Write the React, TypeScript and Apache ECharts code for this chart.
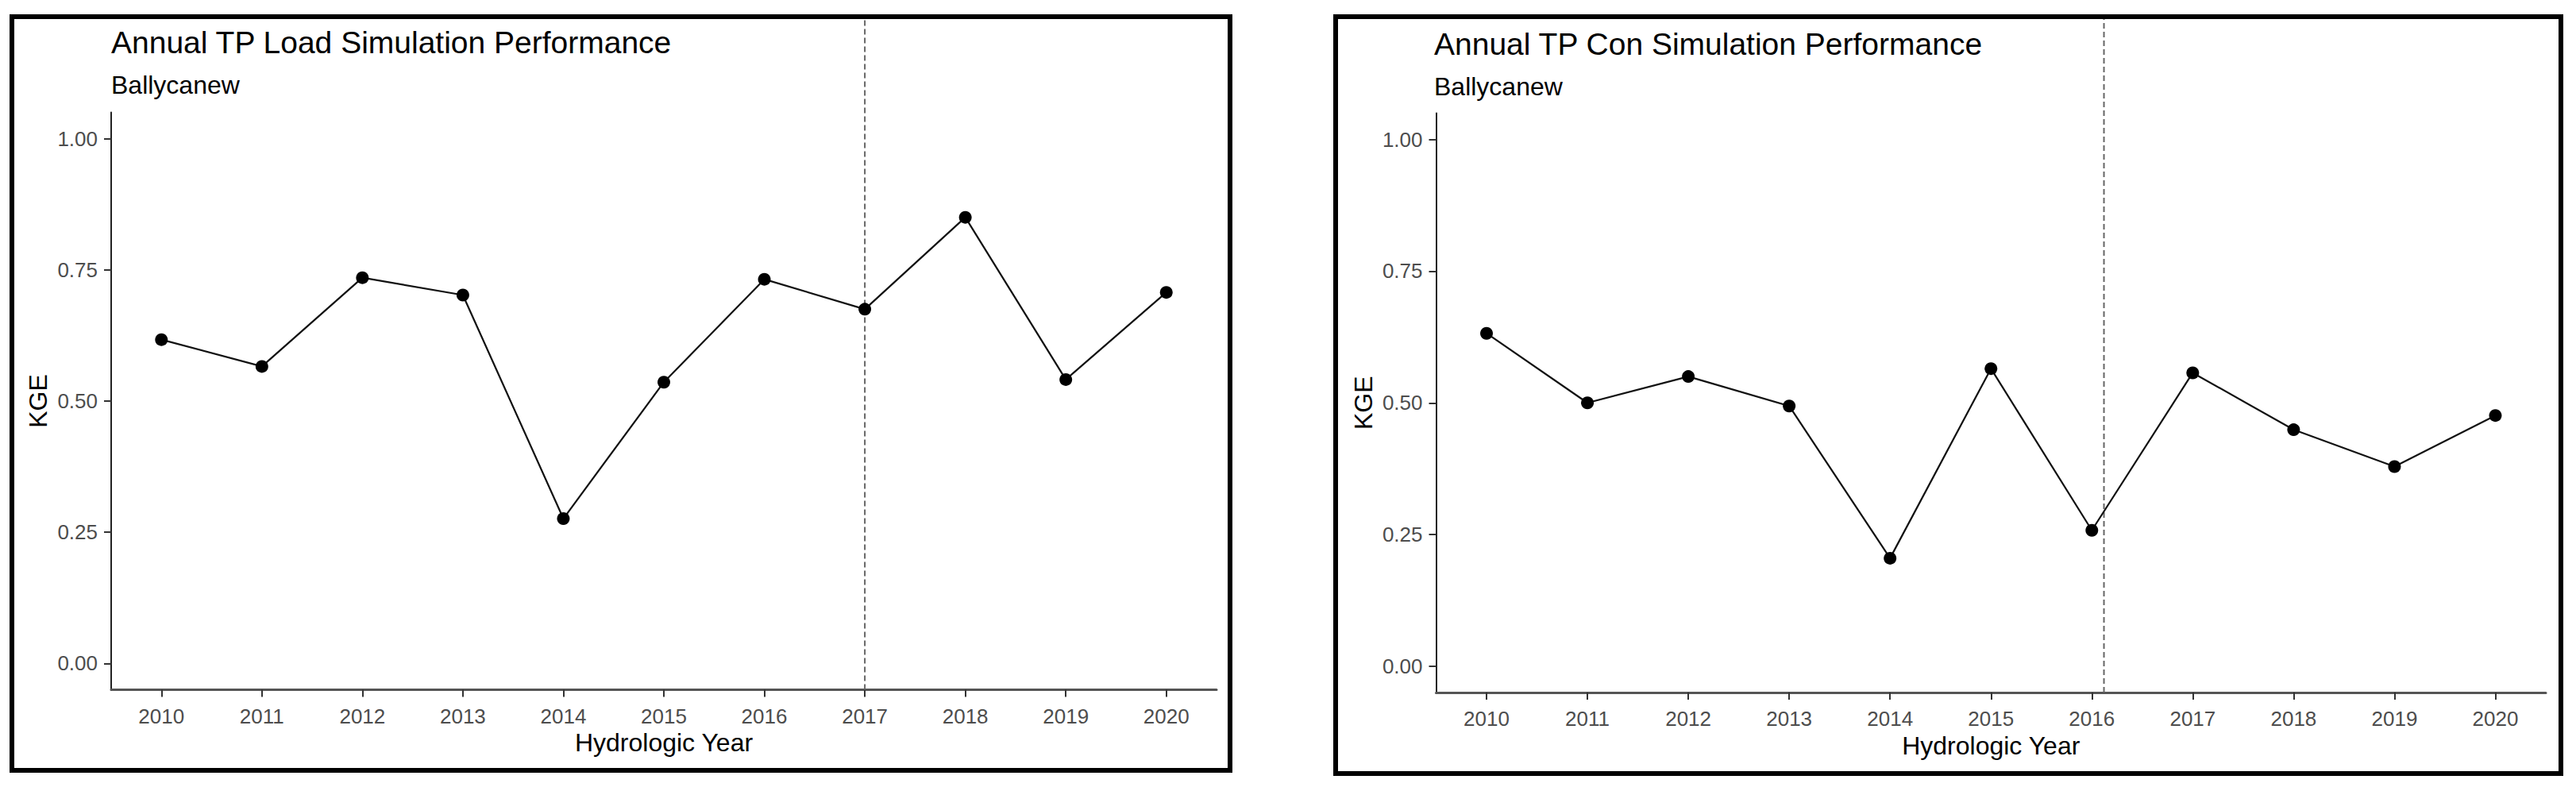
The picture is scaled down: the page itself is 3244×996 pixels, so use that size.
import React, { useEffect, useRef } from "react";
import * as echarts from "echarts";

const YEARS = [2010, 2011, 2012, 2013, 2014, 2015, 2016, 2017, 2018, 2019, 2020];
const LOAD_KGE = [0.617, 0.566, 0.735, 0.702, 0.276, 0.536, 0.732, 0.675, 0.85, 0.541, 0.707];
const CON_KGE = [0.632, 0.5, 0.55, 0.494, 0.205, 0.565, 0.258, 0.557, 0.449, 0.379, 0.476];
const Y_TICKS = [0, 0.25, 0.5, 0.75, 1];
const DIVIDERS = [2017.0, 2016.12];
const TITLES = ["Annual TP Load Simulation Performance", "Annual TP Con Simulation Performance"];
const SUBTITLE = "Ballycanew";
const X_NAME = "Hydrologic Year";
const Y_NAME = "KGE";

const FONT = "Liberation Sans, Arial, Helvetica, sans-serif";

export default function App() {
  const ref = useRef<HTMLDivElement>(null);
  useEffect(() => {
    if (!ref.current) return;
    const chart = echarts.init(ref.current, undefined, { renderer: "svg" });

    const panels = [
      { values: LOAD_KGE, title: TITLES[0], divider: DIVIDERS[0], left: 140, width: 1392, top: 141.5, height: 727, titleX: 140, titleY: 53.5, subY: 107, box: { x: 15, y: 21, w: 1534, h: 949 } },
      { values: CON_KGE, title: TITLES[1], divider: DIVIDERS[1], left: 1808.5, width: 1397.5, top: 142.5, height: 729.5, titleX: 1806, titleY: 55, subY: 109, box: { x: 1682, y: 21, w: 1543, h: 953 } },
    ];

    const grids: any[] = [];
    const xAxes: any[] = [];
    const yAxes: any[] = [];
    const series: any[] = [];
    const graphics: any[] = [];

    panels.forEach((p, i) => {
      grids.push({ left: p.left, top: p.top, width: p.width, height: p.height, containLabel: false });
      const dTop = p.box.y;
      grids.push({ left: p.left, top: dTop, width: p.width, height: p.top + p.height - dTop, containLabel: false });

      xAxes.push({
        type: "value",
        gridIndex: i * 2,
        min: 2009.5,
        max: 2020.5,
        name: X_NAME,
        nameLocation: "middle",
        nameGap: 46,
        nameTextStyle: { fontFamily: FONT, fontSize: 32, color: "#000" },
        axisLine: { show: true, onZero: false, lineStyle: { color: "#555", width: 3 } },
        axisTick: { show: true, length: 9, lineStyle: { color: "#333", width: 2 }, customValues: YEARS },
        axisLabel: { show: true, margin: 20, fontFamily: FONT, fontSize: 26, color: "#4d4d4d", customValues: YEARS, formatter: (v: number) => String(Math.round(v)) },
        splitLine: { show: false },
      });
      xAxes.push({ type: "value", gridIndex: i * 2 + 1, min: 2009.5, max: 2020.5, show: false });
      yAxes.push({
        type: "value",
        gridIndex: i * 2,
        min: -0.05,
        max: 1.05,
        name: Y_NAME,
        nameLocation: "middle",
        nameGap: 76,
        nameRotate: 90,
        nameTextStyle: { fontFamily: FONT, fontSize: 32, color: "#000" },
        axisLine: { show: true, onZero: false, lineStyle: { color: "#222", width: 2 } },
        axisTick: { show: true, length: 9, lineStyle: { color: "#333", width: 2 }, customValues: Y_TICKS },
        axisLabel: { show: true, margin: 17, fontFamily: FONT, fontSize: 26, color: "#4d4d4d", customValues: Y_TICKS, formatter: (v: number) => v.toFixed(2) },
        splitLine: { show: false },
      });
      yAxes.push({ type: "value", gridIndex: i * 2 + 1, min: 0, max: 1, show: false });

      series.push({
        type: "line",
        xAxisIndex: i * 2 + 1,
        yAxisIndex: i * 2 + 1,
        data: [[p.divider, 0], [p.divider, 1]],
        symbol: "none",
        lineStyle: { color: "#666", width: 2, type: [7, 4] },
        silent: true,
        z: 1,
      });
      series.push({
        type: "line",
        xAxisIndex: i * 2,
        yAxisIndex: i * 2,
        data: YEARS.map((y, k) => [y, p.values[k]]),
        symbol: "circle",
        symbolSize: 16,
        showSymbol: true,
        itemStyle: { color: "#000" },
        lineStyle: { color: "#111", width: 2.2 },
        z: 3,
      });

      graphics.push({
        type: "rect",
        shape: { x: p.box.x, y: p.box.y, width: p.box.w, height: p.box.h },
        style: { fill: "none", stroke: "#000", lineWidth: 6 },
        z: 10,
      });
      graphics.push({
        type: "text",
        x: p.titleX,
        y: p.titleY,
        style: { text: p.title, font: `39px ${FONT}`, fill: "#000", textAlign: "left", textVerticalAlign: "middle", verticalAlign: "middle" },
      });
      graphics.push({
        type: "text",
        x: p.titleX,
        y: p.subY,
        style: { text: SUBTITLE, font: `32px ${FONT}`, fill: "#000", textAlign: "left", textVerticalAlign: "middle", verticalAlign: "middle" },
      });
    });

    chart.setOption({
      animation: false,
      backgroundColor: "#fff",
      grid: grids,
      xAxis: xAxes,
      yAxis: yAxes,
      series,
      graphic: graphics,
    });
    return () => chart.dispose();
  }, []);
  return <div ref={ref} style={{ position: "fixed", left: 0, top: 0, width: "3244px", height: "996px" }} />;
}
